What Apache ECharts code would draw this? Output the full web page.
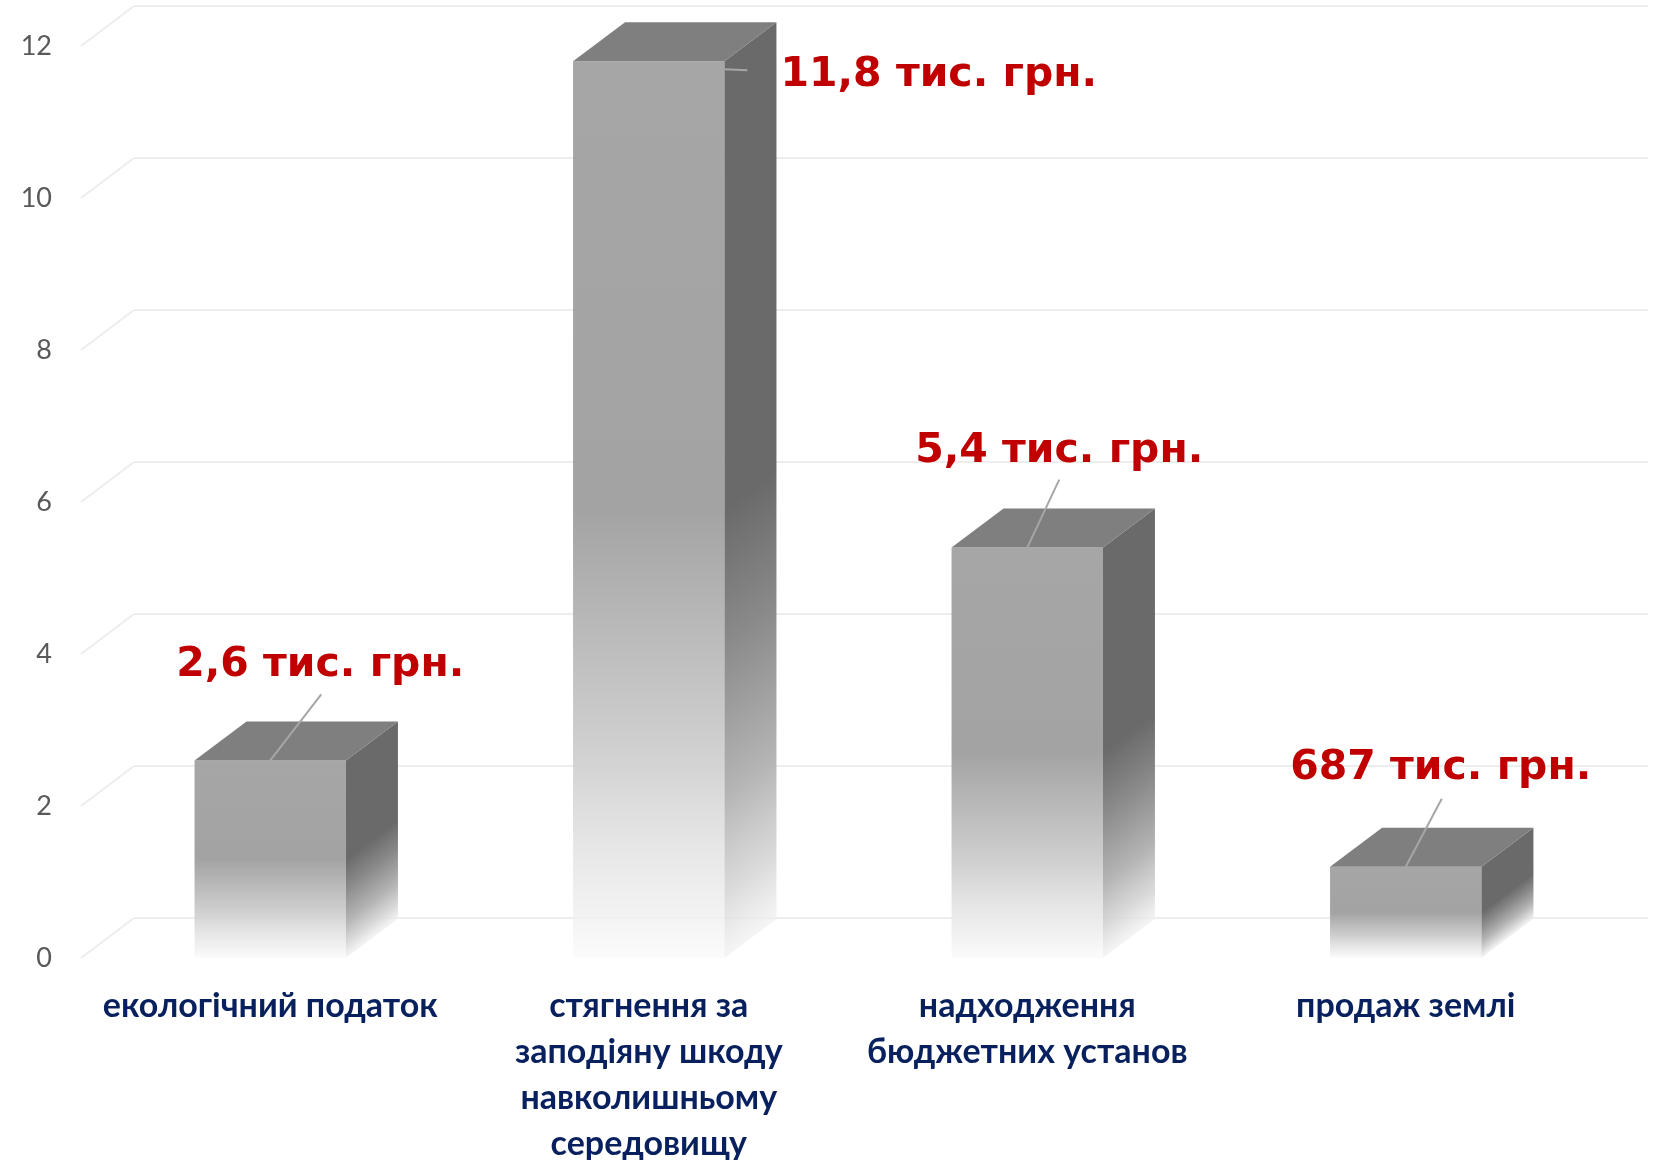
<!DOCTYPE html>
<html>
<head>
<meta charset="utf-8">
<script src="https://cdn.jsdelivr.net/npm/echarts/dist/echarts.min.js"></script>
<style>
html,body{margin:0;padding:0;background:#fff;}
#chart{width:1655px;height:1160px;}
</style>
</head>
<body>
<div id="chart"></div>
<script>
// ---- data ----
const categories = [
  'екологічний податок',
  'стягнення за\nзаподіяну шкоду\nнавколишньому\nсередовищу',
  'надходження\nбюджетних установ',
  'продаж землі'
];
const values = [2.6, 11.8, 5.4, 1.2];
const valueLabels = ['2,6 тис. грн.', '11,8 тис. грн.', '5,4 тис. грн.', '687 тис. грн.'];
const yTicks = [0, 2, 4, 6, 8, 10, 12];

// ---- style / layout config ----
const DEPTH_X = 52, DEPTH_Y = -39;       // bar depth
const WALL_X = 53, WALL_Y = -40;         // back wall offset
const BAR_RATIO = 0.4;
const labelCfg = [
  {dx: 50, dy: -95, align: 'center', lx: 1, ly: 29},
  {dx: 56, dy: 14, align: 'left', side: true},
  {dx: 32, dy: -96, align: 'center', lx: 0, ly: 28},
  {dx: 35, dy: -98, align: 'center', lx: 1, ly: 30}
];
const frontStops = [
  {offset: 0, color: '#a6a6a6'},
  {offset: 0.5, color: '#a3a3a3'},
  {offset: 0.6, color: '#b4b4b4'},
  {offset: 0.76, color: 'rgba(205,205,205,0.97)'},
  {offset: 0.87, color: 'rgba(227,227,227,0.92)'},
  {offset: 0.95, color: 'rgba(240,240,240,0.85)'},
  {offset: 1, color: 'rgba(250,250,250,0.75)'}
];
const sideStops = [
  {offset: 0, color: '#6a6a6a'},
  {offset: 0.5, color: '#6a6a6a'},
  {offset: 0.65, color: '#8a8a8a'},
  {offset: 0.82, color: '#b5b5b5'},
  {offset: 0.93, color: 'rgba(215,215,215,0.9)'},
  {offset: 1, color: 'rgba(240,240,240,0.7)'}
];

const chart = echarts.init(document.getElementById('chart'), null, {renderer: 'canvas'});

function gridRender(params, api) {
  const cs = params.coordSys;
  const y = api.coord([0, api.value(1)])[1];
  const x0 = cs.x;
  const x1 = cs.x + cs.width;
  const st = {stroke: '#ededed', lineWidth: 2};
  return {
    type: 'group',
    children: [
      {type: 'line', shape: {x1: x0, y1: y, x2: x0 + WALL_X, y2: y + WALL_Y}, style: st, silent: true},
      {type: 'line', shape: {x1: x0 + WALL_X, y1: y + WALL_Y, x2: x1 + WALL_X, y2: y + WALL_Y}, style: st, silent: true}
    ]
  };
}

function barRender(params, api) {
  const i = params.dataIndex;
  const idx = api.value(0), v = api.value(1);
  const top = api.coord([idx, v]);
  const base = api.coord([idx, 0]);
  const band = api.size([1, 0])[0];
  const w = band * BAR_RATIO;
  const xl = top[0] - w / 2, xr = top[0] + w / 2;
  const yt = top[1], yb = base[1];
  const h = yb - yt;
  const children = [];
  // front face
  children.push({
    type: 'rect',
    shape: {x: xl, y: yt, width: w, height: h},
    style: {fill: new echarts.graphic.LinearGradient(0, 0, 0, 1, frontStops)}
  });
  // side face
  const L = 0.8 * h;
  children.push({
    type: 'polygon',
    shape: {points: [[xr, yt], [xr + DEPTH_X, yt + DEPTH_Y], [xr + DEPTH_X, yb + DEPTH_Y], [xr, yb]]},
    style: {fill: new echarts.graphic.LinearGradient(xr, yt, xr + L * 39 / 65, yt + L * 52 / 65, sideStops, true)}
  });
  // top face
  children.push({
    type: 'polygon',
    shape: {points: [[xl, yt], [xr, yt], [xr + DEPTH_X, yt + DEPTH_Y], [xl + DEPTH_X, yt + DEPTH_Y]]},
    style: {fill: '#7f7f7f'}
  });
  // label + leader
  const c = labelCfg[i];
  const txtStyle = {
    text: valueLabels[i], fill: '#c00000', fontSize: 41, fontWeight: 'bold',
    fontFamily: '"DejaVu Sans", sans-serif', align: c.align, verticalAlign: 'middle'
  };
  if (c.side) {
    children.push({type: 'line', shape: {x1: xr, y1: yt + 8, x2: xr + 23, y2: yt + 9},
      style: {stroke: '#a6a6a6', lineWidth: 2}});
    children.push({type: 'text', x: xr + c.dx, y: yt + c.dy, style: txtStyle});
  } else {
    const cx = top[0];
    const tx = cx + c.dx, ty = yt + c.dy;
    children.push({type: 'line', shape: {x1: tx + c.lx, y1: ty + c.ly, x2: cx, y2: yt},
      style: {stroke: '#a6a6a6', lineWidth: 2}});
    children.push({type: 'text', x: tx, y: ty, style: txtStyle});
  }
  return {type: 'group', children: children};
}

const option = {
  backgroundColor: '#ffffff',
  animation: false,
  grid: {left: 81, right: 60, top: 46, bottom: 202, containLabel: false, outerBoundsMode: 'none'},
  xAxis: {
    type: 'category',
    data: categories,
    boundaryGap: true,
    axisLine: {show: false},
    axisTick: {show: false},
    splitLine: {show: false},
    axisLabel: {
      interval: 0, margin: 25, color: '#08215e', fontSize: 34, fontWeight: 'bold',
      fontFamily: 'Lato, sans-serif', lineHeight: 46, align: 'center'
    }
  },
  yAxis: {
    type: 'value',
    min: 0, max: 12, interval: 2,
    axisLine: {show: false},
    axisTick: {show: false},
    splitLine: {show: false},
    axisLabel: {margin: 29, color: '#595959', fontSize: 27, fontFamily: 'Lato, sans-serif', padding: [4, 0, 0, 0]}
  },
  series: [
    {
      type: 'custom', name: 'grid', clip: false, z: 1, silent: true,
      renderItem: gridRender,
      data: yTicks.map(t => [0, t])
    },
    {
      type: 'custom', name: 'bars', clip: false, z: 2,
      renderItem: barRender,
      data: values.map((v, i) => [i, v])
    }
  ]
};
chart.setOption(option);
</script>
</body>
</html>
